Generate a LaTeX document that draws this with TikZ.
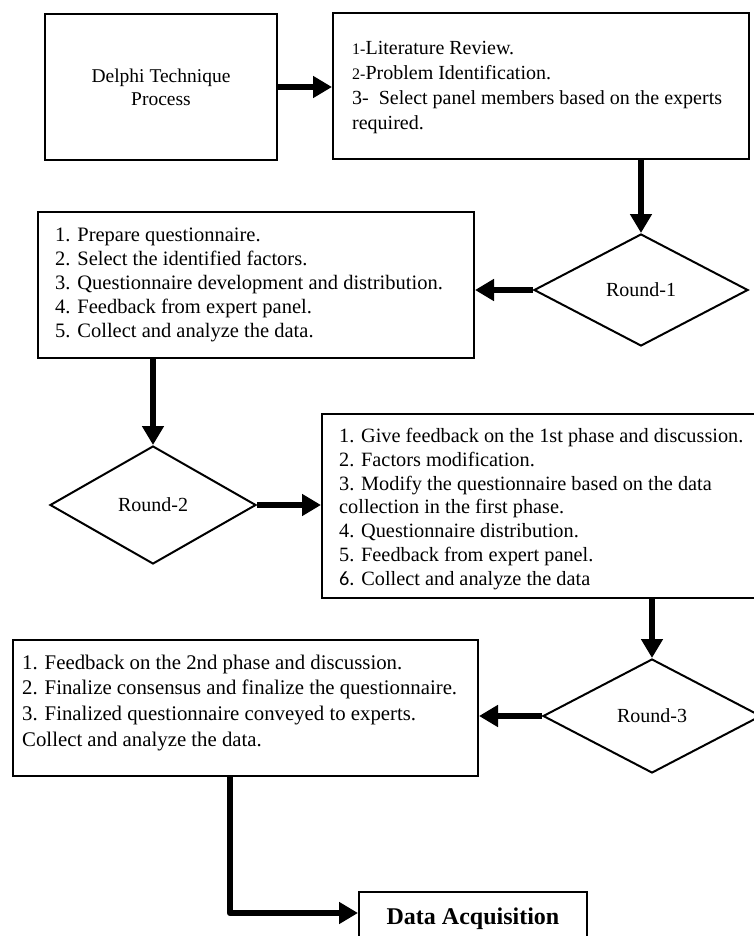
\documentclass[tikz,border=0pt]{standalone}
\usepackage{fontspec}
\setmainfont{Liberation Serif}
\newfontfamily\calibfont{Carlito}
\usetikzlibrary{arrows.meta,shapes.geometric,calc}

\begin{document}
\begin{tikzpicture}[x=1pt,y=-1pt,
  box/.style={draw, line width=2pt, rectangle, inner sep=0pt},
  decision/.style={draw, line width=2pt, diamond, inner sep=0pt,
    font=\fontsize{20}{24}\selectfont},
  flow/.style={line width=6.5pt, -{Triangle[length=19pt,width=21pt]}},
  itemtext/.style={anchor=west, align=left, inner sep=0pt}]

\useasboundingbox (0,0) rectangle (754,936);
\clip (0,0) rectangle (754,936);
\fill[white] (0,0) rectangle (754,936);

% start box and preparation steps
\node[box, minimum width=232pt, minimum height=146pt, align=center,
  font=\fontsize{19.5}{23}\selectfont] (start) at (161,87) {Delphi Technique\\Process};
\node[box, minimum width=416pt, minimum height=146pt] (prep) at (541,86) {};
\node[itemtext, font=\fontsize{20}{25}\selectfont] (preptext) at (352,88)
  {{\fontsize{16}{25}\selectfont 1-}Literature Review.\\
   {\fontsize{16}{25}\selectfont 2-}Problem Identification.\\
   3-\ \ Select panel members based on the experts\\
   required.};

% round 1
\node[decision, minimum width=214pt, minimum height=112pt] (r1) at (641,290) {Round-1};
\node[box, minimum width=436pt, minimum height=146pt] (c) at (256,285) {};
\node[itemtext, font=\fontsize{20.5}{24}\selectfont] (ctext) at (55,285)
  {1. Prepare questionnaire.\\
   2. Select the identified factors.\\
   3. Questionnaire development and distribution.\\
   4. Feedback from expert panel.\\
   5. Collect and analyze the data.};

% round 2
\node[decision, minimum width=206pt, minimum height=118pt] (r2) at (153,505) {Round-2};
\node[box, minimum width=450pt, minimum height=184pt] (d) at (547,506) {};
\node[itemtext, font=\fontsize{20.3}{23.9}\selectfont] (dtext) at (339,509)
  {1. Give feedback on the 1st phase and discussion.\\
   2. Factors modification.\\
   3. Modify the questionnaire based on the data\\
   collection in the first phase.\\
   4. Questionnaire distribution.\\
   5. Feedback from expert panel.\\
   {\calibfont 6.} Collect and analyze the data};

% round 3
\node[decision, minimum width=218pt, minimum height=114pt] (r3) at (652,716) {Round-3};
\node[box, minimum width=465pt, minimum height=136pt] (e) at (245.5,708) {};
\node[itemtext, font=\fontsize{20.8}{25.5}\selectfont] (etext) at (22,703)
  {1. Feedback on the 2nd phase and discussion.\\
   2. Finalize consensus and finalize the questionnaire.\\
   3. Finalized questionnaire conveyed to experts.\\[1pt]
   Collect and analyze the data.};

% result
\node[box, minimum width=228pt, minimum height=54pt,
  font=\fontsize{24}{28}\selectfont\bfseries] (da) at (473,919) {Data Acquisition};

% connectors
\draw[flow] (start.east) -- (start.east -| prep.west);
\draw[flow] (prep.south -| r1.north) -- (r1.north);
\draw[flow] (r1.west) -- (r1.west -| c.east);
\draw[flow] (c.south -| r2.north) -- (r2.north);
\draw[flow] (r2.east) -- (r2.east -| d.west);
\draw[flow] (d.south -| r3.north) -- (r3.north);
\draw[flow] (r3.west) -- (r3.west -| e.east);
\coordinate (bend) at (230,913);
\draw[flow, line join=round] (e.south -| bend) |- (da.west |- bend);
\end{tikzpicture}
\end{document}
